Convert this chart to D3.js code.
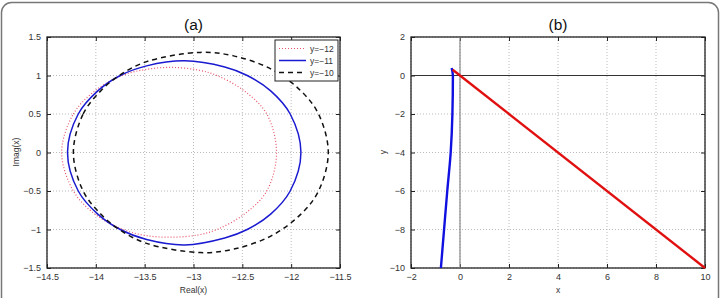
<!DOCTYPE html>
<html>
<head>
<meta charset="utf-8">
<script src="https://cdn.jsdelivr.net/npm/d3@7"></script>
<style>
body { margin: 0; background: #fff; }
svg { display: block; font-family: "Liberation Sans", Arial, sans-serif; }
.tick text { fill: #333; font-size: 9px; }
</style>
</head>
<body>
<script>
// panel (a): closed curves, points read around each loop [real, imag]
var curveRed = [[-14.35,0],[-14.23,0.5],[-14.01,0.8],[-13.73,1.0],[-13.48,1.08],[-13.22,1.105],[-12.95,1.07],
                [-12.76,1.0],[-12.48,0.8],[-12.25,0.5],[-12.15,0],[-12.25,-0.5],[-12.48,-0.8],[-12.76,-1.0],
                [-12.95,-1.07],[-13.22,-1.10],[-13.48,-1.08],[-13.72,-1.0],[-14.01,-0.8],[-14.23,-0.5]];
var curveBlue = [[-14.29,0],[-14.18,0.5],[-13.98,0.8],[-13.75,1.0],[-13.48,1.125],[-13.09,1.19],[-12.68,1.11],
                 [-12.45,1.0],[-12.21,0.8],[-12.01,0.5],[-11.90,0],[-12.01,-0.5],[-12.21,-0.8],[-12.45,-1.0],
                 [-12.68,-1.11],[-13.09,-1.20],[-13.48,-1.13],[-13.75,-1.0],[-13.98,-0.8],[-14.18,-0.5]];
var curveBlack = [[-14.23,0],[-14.13,0.5],[-13.95,0.8],[-13.76,1.0],[-13.48,1.18],[-12.93,1.30],[-12.59,1.255],
                  [-12.20,1.08],[-11.90,0.8],[-11.72,0.5],[-11.62,0],[-11.72,-0.5],[-11.90,-0.8],[-12.20,-1.08],
                  [-12.59,-1.255],[-12.93,-1.30],[-13.48,-1.18],[-13.76,-1.0],[-13.95,-0.8],[-14.13,-0.5]];
var legendLabels = ["y=\u221212", "y=\u221211", "y=\u221210"];
var xTicksA = [-14.5,-14,-13.5,-13,-12.5,-12,-11.5];
var yTicksA = [-1.5,-1,-0.5,0,0.5,1,1.5];

// panel (b)
var lineBlue = [[-0.34,0.39],[-0.29,0],[-0.31,-2],[-0.38,-4],[-0.52,-6],[-0.65,-8],[-0.78,-10]];
var lineRed = [[-0.3,0.3],[10,-10]];
var xTicksB = [-2,0,2,4,6,8,10];
var yTicksB = [-10,-8,-6,-4,-2,0,2];

var W = 723, H = 298;
var svg = d3.select("body").append("svg").attr("width", W).attr("height", H);

// outer frame
svg.append("rect").attr("x", 1.5).attr("y", 2.5).attr("width", 717).attr("height", 320)
  .attr("rx", 10).attr("fill", "none").attr("stroke", "#777").attr("stroke-width", 1.5);

function fmt(v) { return String(v).replace("-", "\u2212"); }

function panel(opt) {
  var x = d3.scaleLinear().domain(opt.xd).range([opt.left, opt.right]);
  var y = d3.scaleLinear().domain(opt.yd).range([268, 37]);
  var g = svg.append("g");

  // grid
  g.append("g").selectAll("line").data(opt.xt).enter().append("line")
    .attr("x1", function(d){ return x(d); }).attr("x2", function(d){ return x(d); })
    .attr("y1", 37).attr("y2", 268)
    .attr("stroke", "#aaa").attr("stroke-width", 0.8).attr("stroke-dasharray", "1,2");
  g.append("g").selectAll("line").data(opt.yt).enter().append("line")
    .attr("y1", function(d){ return y(d); }).attr("y2", function(d){ return y(d); })
    .attr("x1", opt.left).attr("x2", opt.right)
    .attr("stroke", "#aaa").attr("stroke-width", 0.8).attr("stroke-dasharray", "1,2");

  // axes (MATLAB style, ticks pointing in on all sides)
  g.append("g").attr("transform", "translate(0,268)")
    .call(d3.axisBottom(x).tickValues(opt.xt).tickSize(-4).tickPadding(6).tickFormat(fmt));
  g.append("g").attr("transform", "translate(" + opt.left + ",0)")
    .call(d3.axisLeft(y).tickValues(opt.yt).tickSize(-4).tickPadding(6).tickFormat(fmt));
  g.append("g").attr("transform", "translate(0,37)")
    .call(d3.axisTop(x).tickValues(opt.xt).tickSize(-4).tickFormat(""));
  g.append("g").attr("transform", "translate(" + opt.right + ",0)")
    .call(d3.axisRight(y).tickValues(opt.yt).tickSize(-4).tickFormat(""));
  g.selectAll(".domain").remove();
  g.selectAll(".tick line").attr("stroke", "#222");
  g.append("rect").attr("x", opt.left).attr("y", 37)
    .attr("width", opt.right - opt.left).attr("height", 231)
    .attr("fill", "none").attr("stroke", "#222").attr("stroke-width", 1.3);

  g.append("text").attr("x", (opt.left + opt.right) / 2).attr("y", 30)
    .attr("text-anchor", "middle").attr("font-size", 15.5).attr("fill", "#111").text(opt.title);
  g.append("text").attr("x", (opt.left + opt.right) / 2).attr("y", 293)
    .attr("text-anchor", "middle").attr("font-size", 8.5).attr("fill", "#333").text(opt.xlab);
  g.append("text").attr("transform", "translate(" + opt.ylabX + ",152) rotate(-90)")
    .attr("text-anchor", "middle").attr("font-size", 8.5).attr("fill", "#333").text(opt.ylab);
  return {x: x, y: y, g: g};
}

// ---- panel (a)
var A = panel({xd: [-14.5, -11.5], yd: [-1.5, 1.5], left: 47, right: 340,
  xt: xTicksA, yt: yTicksA, title: "(a)", xlab: "Real(x)", ylab: "Imag(x)", ylabX: 19});

var loop = d3.line().x(function(d){ return A.x(d[0]); }).y(function(d){ return A.y(d[1]); })
  .curve(d3.curveCatmullRomClosed.alpha(0.5));

var seriesA = [
  {data: curveRed, color: "#e8556a", width: 1.2, dash: "1,2"},
  {data: curveBlue, color: "#1a1ad0", width: 1.5, dash: null},
  {data: curveBlack, color: "#111", width: 1.5, dash: "5,4"}
];
seriesA.forEach(function(s) {
  A.g.append("path").attr("d", loop(s.data)).attr("fill", "none")
    .attr("stroke", s.color).attr("stroke-width", s.width)
    .attr("stroke-dasharray", s.dash);
});

// legend
var lg = A.g.append("g");
lg.append("rect").attr("x", 275).attr("y", 40).attr("width", 63).attr("height", 41)
  .attr("fill", "#fff").attr("stroke", "#222").attr("stroke-width", 1);
seriesA.forEach(function(s, i) {
  var yy = 48.5 + i * 12;
  lg.append("line").attr("x1", 279).attr("x2", 306).attr("y1", yy).attr("y2", yy)
    .attr("stroke", s.color).attr("stroke-width", s.width).attr("stroke-dasharray", s.dash);
  lg.append("text").attr("x", 310).attr("y", yy + 3).attr("font-size", 8.5)
    .attr("fill", "#333").text(legendLabels[i]);
});

// ---- panel (b)
var B = panel({xd: [-2, 10], yd: [-10, 2], left: 411, right: 705,
  xt: xTicksB, yt: yTicksB, title: "(b)", xlab: "x", ylab: "y", ylabX: 386});

B.g.append("line").attr("x1", B.x(0)).attr("x2", B.x(0)).attr("y1", 37).attr("y2", 268)
  .attr("stroke", "#888").attr("stroke-width", 1.2);
B.g.append("line").attr("x1", 411).attr("x2", 705).attr("y1", B.y(0)).attr("y2", B.y(0))
  .attr("stroke", "#333").attr("stroke-width", 1);

var ln = d3.line().x(function(d){ return B.x(d[0]); }).y(function(d){ return B.y(d[1]); })
  .curve(d3.curveMonotoneY);
B.g.append("path").attr("d", ln(lineBlue)).attr("fill", "none")
  .attr("stroke", "#1010e0").attr("stroke-width", 2.4);
B.g.append("path").attr("d", ln(lineRed)).attr("fill", "none")
  .attr("stroke", "#e01010").attr("stroke-width", 2.4);
</script>
</body>
</html>
